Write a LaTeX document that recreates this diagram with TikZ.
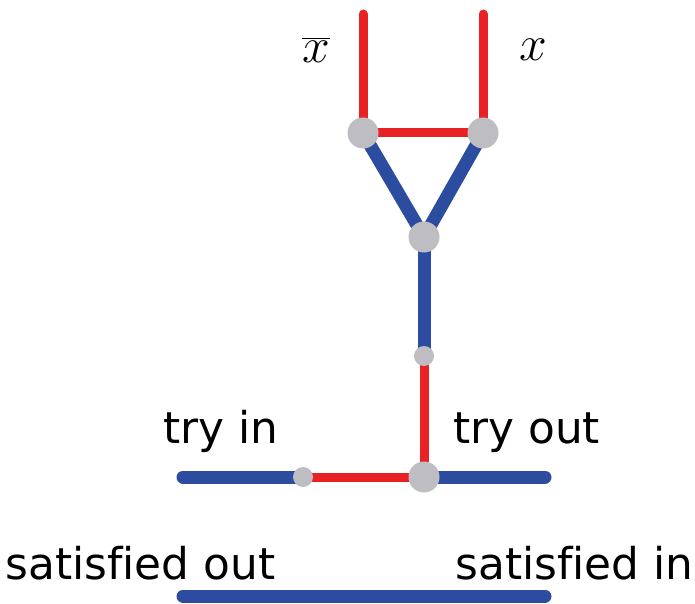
\documentclass[tikz,border=0pt]{standalone}
\usepackage{fontspec}
\setsansfont{DejaVu Sans}[Ligatures=NoCommon]
\usetikzlibrary{backgrounds}
\definecolor{wred}{RGB}{232,34,36}
\definecolor{wblue}{RGB}{44,76,160}
\definecolor{jgray}{RGB}{190,190,194}
\begin{document}
\begin{tikzpicture}[x=0.5pt,y=-0.5pt,
  redw/.style={draw=wred,line width=4.5pt,line cap=round},
  bluew/.style={draw=wblue,line width=6.5pt,line cap=round},
  bigj/.style={circle,fill=jgray,inner sep=0pt,minimum size=15.5pt},
  smallj/.style={circle,fill=jgray,inner sep=0pt,minimum size=10pt},
  lab/.style={font=\fontsize{21.9}{26}\selectfont\sffamily,inner sep=0pt,anchor=base west},
  mlab/.style={font=\fontsize{28}{32}\selectfont,inner sep=0pt}]
\useasboundingbox (0,0) rectangle (695,604);
% junctions
\node[bigj] (xb) at (363,133) {};
\node[bigj] (xp) at (483,133) {};
\node[bigj] (v) at (424,237) {};
\node[smallj] (m) at (424,356) {};
\node[bigj] (j) at (424,477) {};
\node[smallj] (s) at (303,477) {};
\coordinate (xbt) at (363,14);
\coordinate (xpt) at (483,14);
\coordinate (tl) at (183,477);
\coordinate (tr) at (545,477);
\coordinate (bl) at (183,596);
\coordinate (br) at (545,596);
% connectors
\begin{scope}[on background layer]
  \draw[redw] (xbt) -- (xb.center);
  \draw[redw] (xpt) -- (xp.center);
  \draw[redw] (xb.center) -- (xp.center);
  \draw[bluew] (xb.center) -- (v.center);
  \draw[bluew] (xp.center) -- (v.center);
  \draw[bluew] (v.center) -- (m.center);
  \draw[redw] (m.center) -- (j.center);
  \draw[bluew] (tl) -- (s.center);
  \draw[redw] (s.center) -- (j.center);
  \draw[bluew] (j.center) -- (tr);
  \draw[bluew] (bl) -- (br);
\end{scope}
% labels
\node[mlab] (lxb) at (316,50) {$\overline{x}$};
\node[mlab] (lxp) at (533,50) {$x$};
\node[lab] (tin) at (163,443) {try in};
\node[lab] (tout) at (453,443) {try out};
\node[lab] (sout) at (5,579) {satisfied out};
\node[lab] (sin) at (455,579) {satisfied in};
\end{tikzpicture}
\end{document}
